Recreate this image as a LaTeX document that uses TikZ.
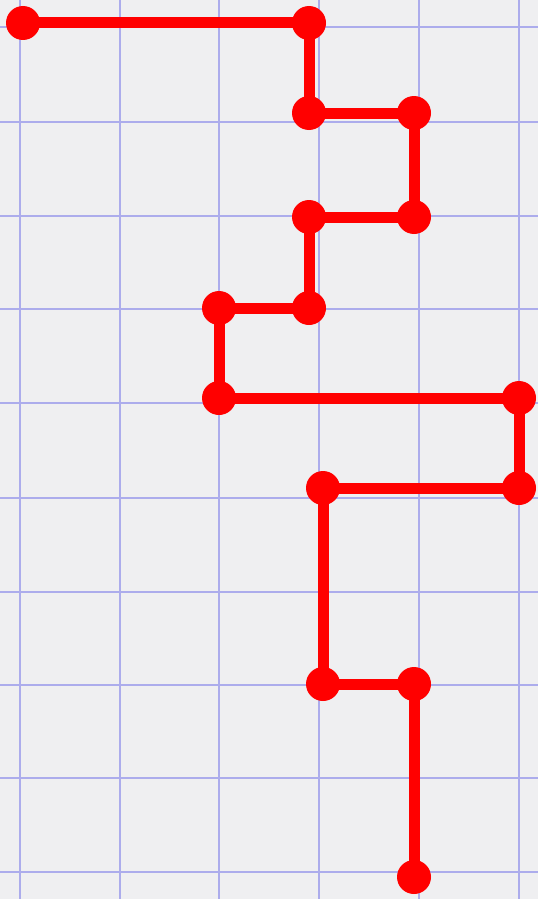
\documentclass[tikz,border=0pt]{standalone}
\begin{document}
\begin{tikzpicture}[x=1pt,y=-1pt,
  gridline/.style={draw=gridblue,line width=2.6pt},
  dot/.style={circle,fill=pathred,inner sep=0pt,minimum size=34pt},
  pathline/.style={draw=pathred,line width=11pt,line join=miter}]
\definecolor{paper}{RGB}{239,239,241}
\definecolor{gridblue}{RGB}{172,172,236}
\definecolor{pathred}{RGB}{255,0,0}
\useasboundingbox (0,0) rectangle (538,899);
\fill[paper] (0,0) rectangle (538,899);
% grid
\foreach \gx in {20,120,219,319,419,519} {\draw[gridline] (\gx,0) -- (\gx,899);}
\foreach \gy in {27,122,216,309,403,498,592,685,778,872} {\draw[gridline] (0,\gy) -- (538,\gy);}
% points
\node[dot] (p1) at (23,23) {};
\node[dot] (p2) at (309,23) {};
\node[dot] (p3) at (309,113) {};
\node[dot] (p4) at (414,113) {};
\node[dot] (p5) at (414,217) {};
\node[dot] (p6) at (309,217) {};
\node[dot] (p7) at (309,308) {};
\node[dot] (p8) at (219,308) {};
\node[dot] (p9) at (219,398) {};
\node[dot] (p10) at (519,398) {};
\node[dot] (p11) at (519,488) {};
\node[dot] (p12) at (323,488) {};
\node[dot] (p13) at (323,684) {};
\node[dot] (p14) at (414,684) {};
\node[dot] (p15) at (414,877) {};
\draw[pathline] (p1.center) -- (p2.center) -- (p3.center) -- (p4.center) -- (p5.center)
  -- (p6.center) -- (p7.center) -- (p8.center) -- (p9.center) -- (p10.center)
  -- (p11.center) -- (p12.center) -- (p13.center) -- (p14.center) -- (p15.center);
\end{tikzpicture}
\end{document}
